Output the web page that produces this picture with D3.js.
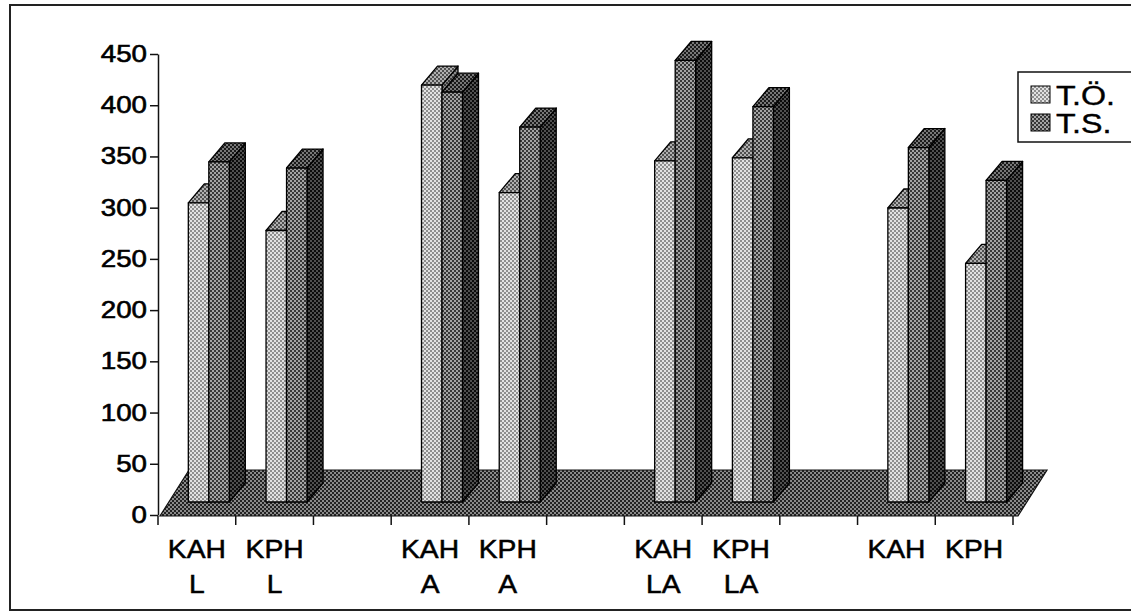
<!DOCTYPE html>
<html>
<head>
<meta charset="utf-8">
<script src="https://cdn.jsdelivr.net/npm/d3@7"></script>
<style>
  html, body { margin: 0; padding: 0; background: #fff; }
  svg { display: block; }
</style>
</head>
<body>
<svg id="chart" width="1131" height="613"></svg>
<script>
// Groups (two-line labels split on the space), series and values
const groups = ["KAH L", "KPH L", "KAH A", "KPH A", "KAH LA", "KPH LA", "KAH", "KPH"];
const seriesNames = ["T.Ö.", "T.S."];
const valuesTO = [292, 265, 407, 302, 333, 336, 287, 233];
const valuesTS = [332, 326, 400, 366, 431, 386, 346, 314];
const yTicks = [0, 50, 100, 150, 200, 250, 300, 350, 400, 450];

const svg = d3.select("#chart");
const FONT = "'Liberation Sans', Arial, Helvetica, sans-serif";

// Halftone-like fills
const defs = svg.append("defs");
function halftone(id, bg, fg, size, dot) {
  const p = defs.append("pattern").attr("id", id)
    .attr("patternUnits", "userSpaceOnUse").attr("width", size).attr("height", size);
  p.append("rect").attr("width", size).attr("height", size).attr("fill", bg);
  p.append("rect").attr("x", 0).attr("y", 0).attr("width", dot).attr("height", dot).attr("fill", fg);
  p.append("rect").attr("x", size / 2).attr("y", size / 2).attr("width", dot).attr("height", dot).attr("fill", fg);
}
halftone("toFront", "#e2e2e2", "#8e8e8e", 4, 2);
halftone("toTop",   "#b0b0b0", "#505050", 4, 2);
halftone("toSide",  "#8a8a8a", "#3a3a3a", 4, 2);
halftone("tsFront", "#a4a4a4", "#383838", 4, 2);
halftone("tsTop",   "#777777", "#1a1a1a", 4, 2);
halftone("tsSide",  "#505050", "#0c0c0c", 4, 2);
halftone("floor",   "#8a8a8a", "#222222", 4, 2);

const fills = {
  "T.Ö.": { front: "url(#toFront)", top: "url(#toTop)", side: "url(#toSide)" },
  "T.S.": { front: "url(#tsFront)", top: "url(#tsTop)", side: "url(#tsSide)" }
};

// Category slots: an empty slot between every pair of groups
const slots = [];
groups.forEach((g, i) => {
  slots.push(g);
  if (i % 2 === 1 && i < groups.length - 1) slots.push("gap" + i);
});

const x = d3.scaleBand().domain(slots).range([158, 1013]).padding(0);
const y = d3.scaleLinear().domain([0, 450]).range([515, 54]);
const bw = x.bandwidth();
const x1 = d3.scaleBand().domain(seriesNames).range([0, 41]);

// 3D projection offsets
const barShiftY = -13;           // bars stand part-way back on the floor
const depthX = 16, depthY = -19; // bar depth
const floorDX = 29, floorDY = -46;

// Outer frame
svg.append("rect").attr("x", 10).attr("y", 5).attr("width", 1140).attr("height", 605)
  .attr("fill", "none").attr("stroke", "#222").attr("stroke-width", 2);

// Floor
const fx0 = x.range()[0] + 2, fx1 = x.range()[1] + 5, fy = y(0) + 1;
svg.append("polygon")
  .attr("points", [[fx0, fy], [fx1, fy], [fx1 + floorDX, fy + floorDY], [fx0 + floorDX, fy + floorDY]].map(p => p.join(",")).join(" "))
  .attr("fill", "url(#floor)").attr("stroke", "#111").attr("stroke-width", 1.2);

// Bars
const barData = [];
groups.forEach((g, i) => {
  barData.push({ group: g, series: "T.Ö.", value: valuesTO[i] });
  barData.push({ group: g, series: "T.S.", value: valuesTS[i] });
});

const barG = svg.append("g").attr("stroke", "#000").attr("stroke-width", 1.3).attr("stroke-linejoin", "round");
barData.forEach(d => {
  const x0 = x(d.group) + bw * 0.39 + x1(d.series);
  const w = x1.bandwidth();
  const yTop = y(d.value) + barShiftY;
  const yBase = y(0) + barShiftY;
  const f = fills[d.series];
  const g = barG.append("g");
  g.append("polygon")
    .attr("points", [[x0 + w, yTop], [x0 + w + depthX, yTop + depthY], [x0 + w + depthX, yBase + depthY], [x0 + w, yBase]].map(p => p.join(",")).join(" "))
    .attr("fill", f.side);
  g.append("polygon")
    .attr("points", [[x0, yTop], [x0 + depthX, yTop + depthY], [x0 + w + depthX, yTop + depthY], [x0 + w, yTop]].map(p => p.join(",")).join(" "))
    .attr("fill", f.top);
  g.append("rect").attr("x", x0).attr("y", yTop).attr("width", w).attr("height", yBase - yTop)
    .attr("fill", f.front);
});

// Value axis
const yAxis = svg.append("g").attr("transform", "translate(158,0)")
  .call(d3.axisLeft(y).tickValues(yTicks).tickSize(8).tickSizeOuter(0).tickPadding(3));
yAxis.select(".domain").attr("stroke", "#111").attr("stroke-width", 1.5);
yAxis.selectAll(".tick line").attr("stroke", "#111").attr("stroke-width", 1.5);
yAxis.selectAll(".tick text")
  .attr("x", 0)
  .attr("transform", "translate(-11,0) scale(1.18,1)")
  .attr("font-family", FONT).attr("font-size", 23.5).attr("fill", "#000")
  .attr("stroke", "#000").attr("stroke-width", 0.6);

// Category axis: ticks at slot boundaries, labels on two lines
const catAxis = svg.append("g");
const bounds = slots.map(s => x(s)).concat([x.range()[1]]);
catAxis.selectAll("line").data(bounds).join("line")
  .attr("x1", d => d).attr("x2", d => d)
  .attr("y1", y(0) + 1).attr("y2", y(0) + 10)
  .attr("stroke", "#111").attr("stroke-width", 1.5);

groups.forEach(g => {
  const cx = x(g) + bw / 2;
  g.split(" ").forEach((line, li) => {
    catAxis.append("text")
      .attr("transform", `translate(${cx},${558 + li * 35}) scale(1.13,1)`)
      .attr("text-anchor", "middle")
      .attr("font-family", FONT).attr("font-size", 25).attr("fill", "#000")
      .attr("stroke", "#000").attr("stroke-width", 0.5)
      .text(line);
  });
});

// Legend
const legend = svg.append("g");
legend.append("rect").attr("x", 1018).attr("y", 72).attr("width", 130).attr("height", 70)
  .attr("fill", "#fff").attr("stroke", "#111").attr("stroke-width", 1.5);
seriesNames.forEach((s, i) => {
  const ly = 86 + i * 28;
  legend.append("rect").attr("x", 1031).attr("y", ly).attr("width", 19).attr("height", 17)
    .attr("fill", fills[s].front).attr("stroke", "#000").attr("stroke-width", 1);
  legend.append("text")
    .attr("transform", `translate(1056,${ly + 19}) scale(1.15,1)`)
    .attr("font-family", FONT).attr("font-size", 28).attr("fill", "#000")
    .attr("stroke", "#000").attr("stroke-width", 0.4)
    .text(s);
});
</script>
</body>
</html>
